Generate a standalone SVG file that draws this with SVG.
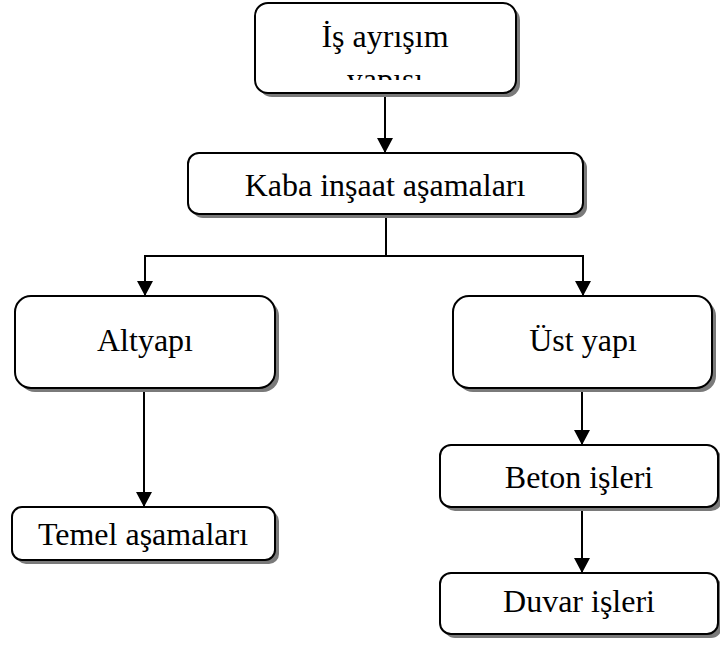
<svg xmlns="http://www.w3.org/2000/svg" width="720" height="646" viewBox="0 0 720 646">
  <style>
    .box { fill: #ffffff; stroke: #000000; stroke-width: 2; }
    .shadow { fill: #7a7a7a; }
    .label { font-family: "Liberation Serif", "Times New Roman", serif; font-size: 32px; fill: #000000; text-anchor: middle; }
    .link { fill: none; stroke: #000000; stroke-width: 2; }
  </style>
  <defs>
    <marker id="arrow" viewBox="0 0 15 16" refX="15" refY="8" markerWidth="15" markerHeight="16" markerUnits="userSpaceOnUse" orient="auto">
      <path d="M0,0 L15,8 L0,16 Z" fill="#000000"/>
    </marker>
    <clipPath id="rootClip">
      <rect x="256" y="4" width="259" height="76"/>
    </clipPath>
  </defs>

  <rect width="720" height="646" fill="#ffffff"/>

  <!-- connectors -->
  <g id="connectors">
    <line class="link" x1="385" y1="93" x2="385" y2="153" marker-end="url(#arrow)"/>
    <polyline class="link" points="386,214 386,256"/>
    <line class="link" x1="144" y1="256" x2="584" y2="256"/>
    <line class="link" x1="145" y1="255" x2="145" y2="296" marker-end="url(#arrow)"/>
    <line class="link" x1="583" y1="255" x2="583" y2="296" marker-end="url(#arrow)"/>
    <line class="link" x1="144" y1="388" x2="144" y2="507" marker-end="url(#arrow)"/>
    <line class="link" x1="582" y1="388" x2="582" y2="445" marker-end="url(#arrow)"/>
    <line class="link" x1="582" y1="507" x2="582" y2="573" marker-end="url(#arrow)"/>
  </g>

  <!-- root: work breakdown structure -->
  <g id="node-root">
    <rect class="shadow" x="259" y="7" width="261" height="90" rx="13"/>
    <rect class="box" x="255" y="3" width="261" height="90" rx="13"/>
    <g clip-path="url(#rootClip)">
      <text class="label" x="385" y="47">İş ayrışım</text>
      <text class="label" x="385" y="90">yapısı</text>
    </g>
  </g>

  <g id="node-kaba">
    <rect class="shadow" x="192" y="157" width="395" height="61" rx="11"/>
    <rect class="box" x="188" y="153" width="395" height="61" rx="11"/>
    <text class="label" x="385" y="196">Kaba inşaat aşamaları</text>
  </g>

  <g id="node-altyapi">
    <rect class="shadow" x="19" y="300" width="260" height="92" rx="16"/>
    <rect class="box" x="15" y="296" width="260" height="92" rx="16"/>
    <text class="label" x="145" y="351">Altyapı</text>
  </g>

  <g id="node-ustyapi">
    <rect class="shadow" x="457" y="300" width="259" height="92" rx="16"/>
    <rect class="box" x="453" y="296" width="259" height="92" rx="16"/>
    <text class="label" x="583" y="351">Üst yapı</text>
  </g>

  <g id="node-temel">
    <rect class="shadow" x="16" y="511" width="263" height="53" rx="10"/>
    <rect class="box" x="12" y="507" width="263" height="53" rx="10"/>
    <text class="label" x="143" y="545">Temel aşamaları</text>
  </g>

  <g id="node-beton">
    <rect class="shadow" x="444" y="449" width="278" height="62" rx="11"/>
    <rect class="box" x="440" y="445" width="278" height="62" rx="11"/>
    <text class="label" x="579" y="488">Beton işleri</text>
  </g>

  <g id="node-duvar">
    <rect class="shadow" x="444" y="577" width="278" height="61" rx="11"/>
    <rect class="box" x="440" y="573" width="278" height="61" rx="11"/>
    <text class="label" x="579" y="612">Duvar işleri</text>
  </g>
</svg>
